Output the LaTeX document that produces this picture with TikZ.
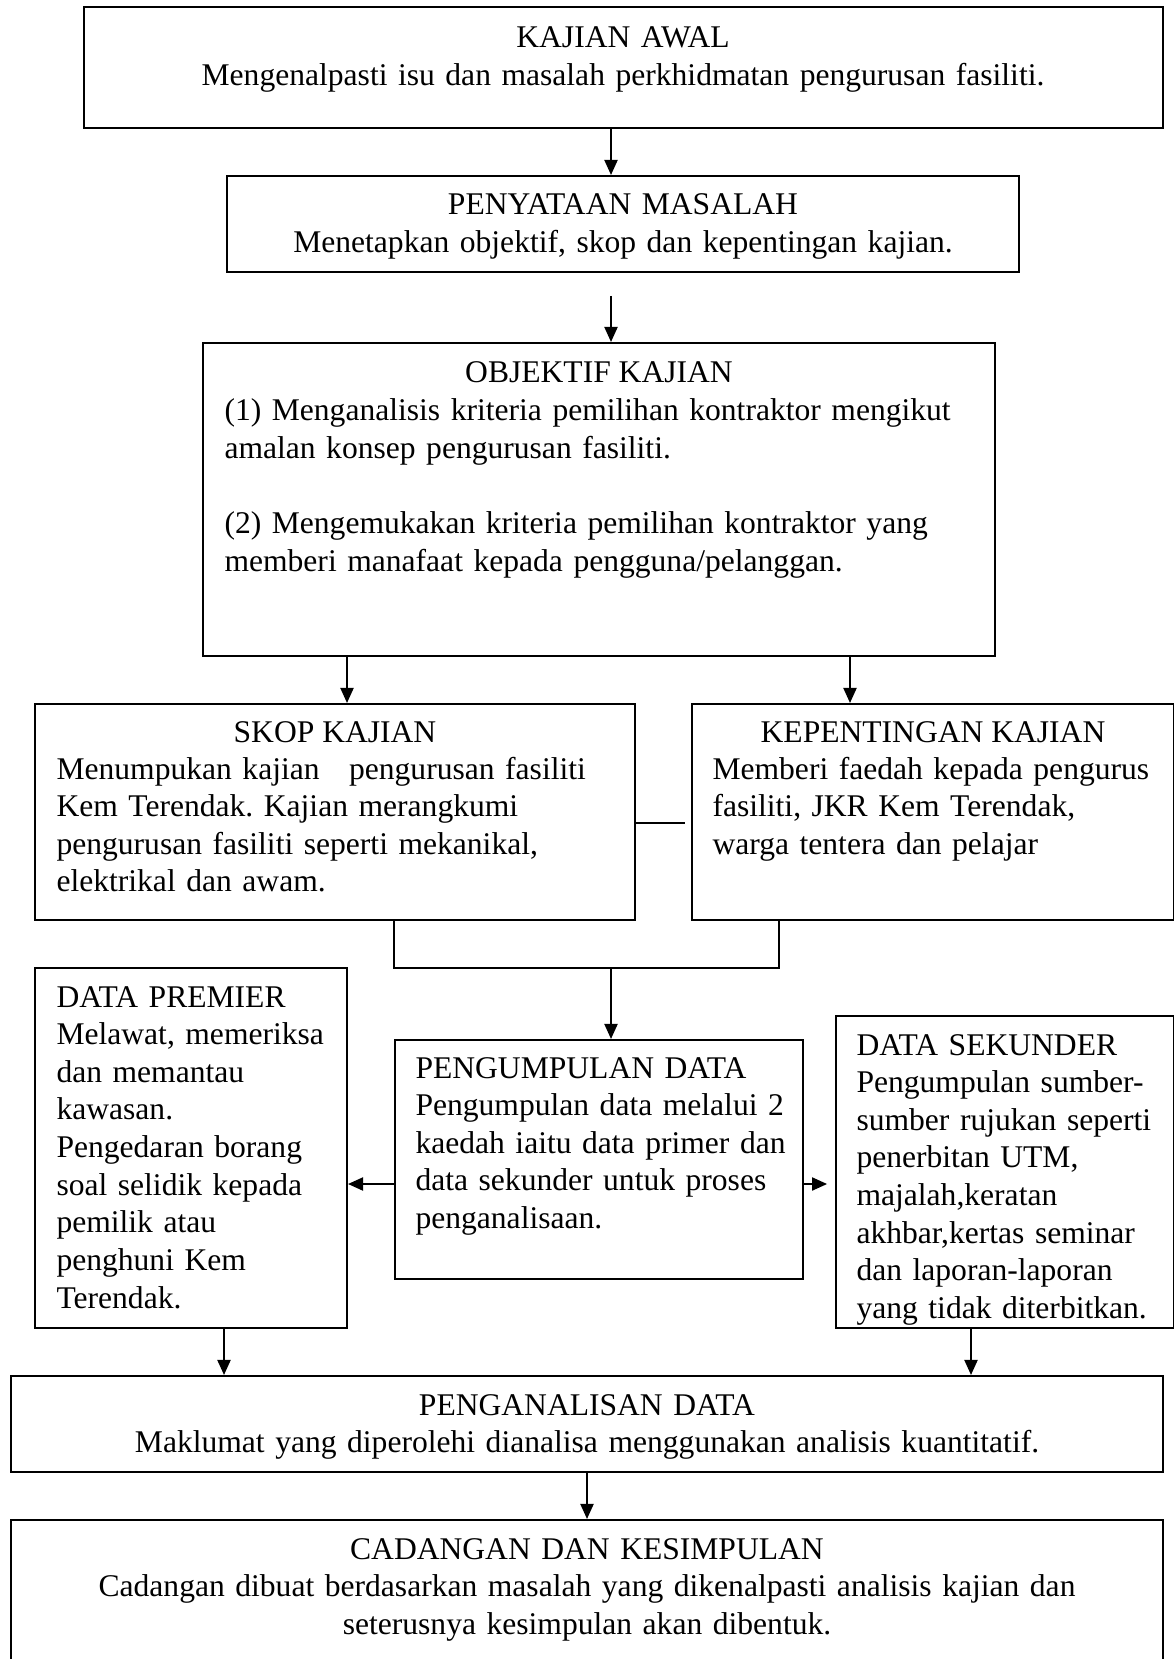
\documentclass[tikz,border=0pt]{standalone}
\usepackage{fontspec}
\setmainfont{Liberation Serif}
\usetikzlibrary{arrows.meta,fit}
\frenchspacing

\tikzset{
  box/.style={draw, line width=0.8pt, inner sep=0pt},
  txt/.style={font=\fontsize{12}{14.3}\selectfont, inner sep=0pt},
  ctxt/.style={txt, align=center, anchor=base},
  ltxt/.style={txt, align=left, anchor=base west},
  link/.style={line width=0.6pt},
  arr/.style={line width=0.6pt, -{Triangle[length=5.7pt,width=5pt]}},
}

\begin{document}
\begin{tikzpicture}[x=0.38pt, y=-0.38pt]
    \useasboundingbox (0,0) rectangle (1173,1659);

    % Kajian awal dan penyataan masalah
    \node[box, fit={(84,7) (1163,128)}] (awal) {};
    \node[ctxt, text width=400pt] (awaltxt) at (623,48)
        {KAJIAN AWAL\\Mengenalpasti isu dan masalah perkhidmatan pengurusan fasiliti.};
    \node[box, fit={(227,176) (1019,272)}] (masalah) {};
    \node[ctxt, text width=290pt] (masalahtxt) at (623,215)
        {PENYATAAN MASALAH\\Menetapkan objektif, skop dan kepentingan kajian.};

    % Objektif kajian
    \node[box, fit={(203,343) (995,656)}] (objektif) {};
    \node[ctxt] (objtitle) at (599,383) {OBJEKTIF KAJIAN};
    \node[ltxt, text width=285pt] (objtxt) at (224,421)
        {(1) Menganalisis kriteria pemilihan kontraktor mengikut\\
         amalan konsep pengurusan fasiliti.\\[14.3pt]
         (2) Mengemukakan kriteria pemilihan kontraktor yang\\
         memberi manafaat kepada pengguna/pelanggan.};

    % Skop dan kepentingan
    \node[box, fit={(35,704) (635,920)}] (skop) {};
    \node[ctxt] (skoptitle) at (335,742) {SKOP KAJIAN};
    \node[ltxt, text width=215pt] (skoptxt) at (56,779)
        {Menumpukan kajian\hspace{0.6em} pengurusan fasiliti\\
         Kem Terendak. Kajian merangkumi\\
         pengurusan fasiliti seperti mekanikal,\\
         elektrikal dan awam.};
    \node[box, fit={(692,704) (1174,920)}] (kep) {};
    \node[ctxt] (keptitle) at (933,742) {KEPENTINGAN KAJIAN};
    \node[ltxt, text width=172pt] (keptxt) at (712,779)
        {Memberi faedah kepada pengurus\\
         fasiliti, JKR Kem Terendak,\\
         warga tentera dan pelajar};

    % Pengumpulan data
    \node[box, fit={(35,968) (347,1328)}] (premier) {};
    \node[ltxt, text width=110pt] (premiertxt) at (56,1007)
        {DATA PREMIER\\Melawat, memeriksa\\dan memantau\\kawasan.\\Pengedaran borang\\
         soal selidik kepada\\pemilik atau\\penghuni Kem\\Terendak.};
    \node[box, fit={(395,1040) (803,1279)}] (kumpul) {};
    \node[ltxt, text width=148pt] (kumpultxt) at (415,1078)
        {PENGUMPULAN DATA\\Pengumpulan data melalui 2\\kaedah iaitu data primer dan\\
         data sekunder untuk proses\\penganalisaan.};
    \node[box, fit={(836,1016) (1174,1328)}] (sekunder) {};
    \node[ltxt, text width=122pt] (sekundertxt) at (856,1055)
        {DATA SEKUNDER\\Pengumpulan sumber-\\sumber rujukan seperti\\penerbitan UTM,\\
         majalah,keratan\\akhbar,kertas seminar\\dan laporan-laporan\\yang tidak diterbitkan.};

    % Penganalisan dan cadangan
    \node[box, fit={(11,1376) (1163,1472)}] (analisa) {};
    \node[ctxt, text width=430pt] (analisatxt) at (587,1415)
        {PENGANALISAN DATA\\Maklumat yang diperolehi dianalisa menggunakan analisis kuantitatif.};
    \node[box, fit={(11,1520) (1163,1662)}] (cadangan) {};
    \node[ctxt, text width=430pt] (cadangantxt) at (587,1559)
        {CADANGAN DAN KESIMPULAN\\Cadangan dibuat berdasarkan masalah yang dikenalpasti analisis kajian dan\\
         seterusnya kesimpulan akan dibentuk.};

    % Penyambung
    \coordinate (c1) at (611,0);
    \coordinate (c2) at (347,0);
    \coordinate (c3) at (850,0);
    \coordinate (c4) at (224,0);
    \coordinate (c5) at (971,0);
    \coordinate (lk) at (0,823);
    \coordinate (sd) at (0,1184);
    \coordinate (bl) at (394,968);
    \coordinate (br) at (779,968);

    \draw[arr] (awal.south -| c1) -- (masalah.north -| c1);
    \draw[arr, shorten <=8.7pt] (masalah.south -| c1) -- (objektif.north -| c1);
    \draw[arr] (objektif.south -| c2) -- (skop.north -| c2);
    \draw[arr] (objektif.south -| c3) -- (kep.north -| c3);
    \draw[link, shorten >=2.3pt] (skop.east |- lk) -- (kep.west |- lk);
    \draw[link] (skop.south -| bl) -- (bl) -- (br) -- (kep.south -| br);
    \draw[arr] (bl -| c1) -- (kumpul.north -| c1);
    \draw[arr] (kumpul.west |- sd) -- (premier.east |- sd);
    \draw[arr, shorten >=3pt] (kumpul.east |- sd) -- (sekunder.west |- sd);
    \draw[arr] (premier.south -| c4) -- (analisa.north -| c4);
    \draw[arr] (sekunder.south -| c5) -- (analisa.north -| c5);
    \draw[arr] (analisa.south) -- (cadangan.north);
\end{tikzpicture}
\end{document}
